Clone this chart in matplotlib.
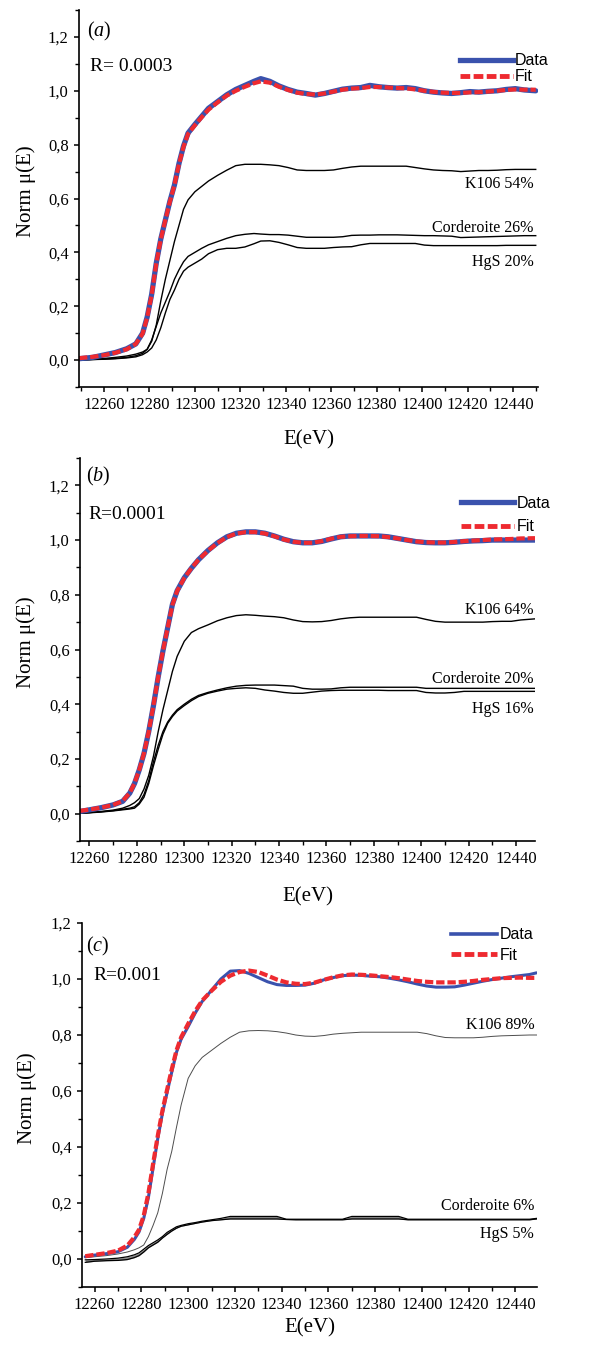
import matplotlib
matplotlib.use("Agg")
import matplotlib.pyplot as plt
from matplotlib.ticker import MultipleLocator, FuncFormatter
from matplotlib.lines import Line2D

plt.rcParams['font.family'] = ['Liberation Serif', 'DejaVu Serif']
plt.rcParams['mathtext.fontset'] = 'custom'
plt.rcParams['mathtext.rm'] = 'Liberation Serif'
plt.rcParams['mathtext.it'] = 'Liberation Serif:italic'

# ---------------- Panel (a) ----------------
E_a = [12249, 12255, 12260, 12265, 12270, 12274, 12277, 12279, 12281, 12283, 12285, 12287,
       12289, 12291, 12293, 12295, 12297, 12300, 12303, 12306, 12310, 12314, 12318, 12322,
       12326, 12329, 12333, 12337, 12341, 12345, 12349, 12353, 12357, 12361, 12365, 12369,
       12373, 12377, 12381, 12385, 12389, 12393, 12397, 12401, 12405, 12409, 12413, 12417,
       12421, 12425, 12429, 12433, 12437, 12441, 12445, 12450]
data_a = [0.005, 0.010, 0.019, 0.028, 0.042, 0.060, 0.100, 0.160, 0.245, 0.360, 0.450, 0.520,
          0.590, 0.650, 0.730, 0.795, 0.843, 0.875, 0.905, 0.935, 0.960, 0.985, 1.005, 1.020,
          1.035, 1.045, 1.035, 1.018, 1.005, 0.995, 0.990, 0.984, 0.990, 0.998, 1.006, 1.010,
          1.012, 1.020, 1.015, 1.012, 1.010, 1.012, 1.008, 1.000, 0.995, 0.992, 0.990, 0.993,
          0.997, 0.995, 0.998, 1.000, 1.005, 1.008, 1.003, 1.000]
fit_a = [0.007, 0.012, 0.018, 0.027, 0.040, 0.060, 0.098, 0.158, 0.243, 0.358, 0.448, 0.520,
         0.588, 0.650, 0.728, 0.792, 0.840, 0.872, 0.902, 0.930, 0.957, 0.982, 1.000, 1.015,
         1.028, 1.035, 1.030, 1.015, 1.003, 0.993, 0.988, 0.986, 0.990, 0.997, 1.004, 1.008,
         1.010, 1.014, 1.014, 1.012, 1.010, 1.009, 1.005, 1.000, 0.996, 0.993, 0.992, 0.992,
         0.994, 0.995, 0.997, 1.000, 1.003, 1.005, 1.004, 1.004]
k106_a = [0.000, 0.003, 0.006, 0.010, 0.015, 0.022, 0.030, 0.040, 0.070, 0.130, 0.220, 0.300,
          0.370, 0.440, 0.500, 0.560, 0.595, 0.625, 0.645, 0.665, 0.686, 0.705, 0.722, 0.727,
          0.727, 0.727, 0.725, 0.722, 0.715, 0.706, 0.704, 0.704, 0.704, 0.706, 0.712, 0.717,
          0.720, 0.720, 0.720, 0.720, 0.720, 0.720, 0.715, 0.710, 0.706, 0.704, 0.703, 0.700,
          0.702, 0.704, 0.704, 0.705, 0.707, 0.708, 0.708, 0.708]
cord_a = [0.000, 0.002, 0.004, 0.006, 0.010, 0.016, 0.025, 0.040, 0.075, 0.125, 0.175, 0.215,
          0.255, 0.300, 0.335, 0.365, 0.385, 0.400, 0.415, 0.428, 0.440, 0.452, 0.462, 0.467,
          0.470, 0.468, 0.466, 0.466, 0.464, 0.460, 0.456, 0.456, 0.456, 0.456, 0.458, 0.463,
          0.464, 0.464, 0.465, 0.465, 0.465, 0.464, 0.463, 0.462, 0.462, 0.461, 0.460, 0.455,
          0.456, 0.457, 0.458, 0.459, 0.460, 0.461, 0.462, 0.462]
hgs_a = [0.000, 0.002, 0.003, 0.005, 0.008, 0.012, 0.020, 0.030, 0.045, 0.075, 0.120, 0.175,
         0.225, 0.260, 0.300, 0.330, 0.345, 0.360, 0.375, 0.395, 0.410, 0.415, 0.415, 0.420,
         0.432, 0.442, 0.443, 0.437, 0.428, 0.418, 0.415, 0.415, 0.415, 0.418, 0.420, 0.421,
         0.428, 0.433, 0.433, 0.433, 0.433, 0.433, 0.433, 0.427, 0.425, 0.425, 0.425, 0.425,
         0.425, 0.425, 0.425, 0.425, 0.426, 0.426, 0.426, 0.426]

# ---------------- Panel (b) ----------------
E_b = [12256, 12260, 12265, 12270, 12274, 12277, 12279, 12281, 12283, 12285, 12287, 12289,
       12291, 12293, 12295, 12297, 12300, 12303, 12306, 12310, 12314, 12318, 12322, 12326,
       12330, 12334, 12338, 12342, 12346, 12350, 12354, 12358, 12362, 12366, 12370, 12374,
       12378, 12382, 12386, 12390, 12394, 12398, 12402, 12406, 12410, 12414, 12418, 12422,
       12426, 12430, 12434, 12438, 12442, 12448]
data_b = [0.008, 0.014, 0.022, 0.032, 0.045, 0.075, 0.110, 0.160, 0.220, 0.300, 0.395, 0.500,
          0.595, 0.680, 0.765, 0.815, 0.862, 0.897, 0.928, 0.962, 0.990, 1.012, 1.025, 1.030,
          1.030, 1.025, 1.015, 1.003, 0.994, 0.990, 0.990, 0.995, 1.004, 1.012, 1.015, 1.015,
          1.015, 1.015, 1.012, 1.006, 1.000, 0.994, 0.991, 0.990, 0.990, 0.992, 0.995, 0.997,
          0.998, 1.000, 1.000, 1.000, 1.000, 1.000]
fit_b = [0.010, 0.015, 0.022, 0.032, 0.046, 0.076, 0.111, 0.160, 0.221, 0.300, 0.396, 0.500,
         0.595, 0.680, 0.763, 0.814, 0.861, 0.897, 0.928, 0.961, 0.989, 1.011, 1.024, 1.029,
         1.029, 1.024, 1.014, 1.002, 0.994, 0.990, 0.990, 0.996, 1.005, 1.012, 1.014, 1.015,
         1.015, 1.014, 1.011, 1.006, 1.000, 0.995, 0.992, 0.991, 0.991, 0.993, 0.996, 0.998,
         1.000, 1.002, 1.003, 1.004, 1.006, 1.007]
k106_b = [0.002, 0.004, 0.008, 0.013, 0.020, 0.030, 0.040, 0.055, 0.090, 0.140, 0.210, 0.300,
          0.380, 0.450, 0.520, 0.575, 0.630, 0.662, 0.676, 0.690, 0.705, 0.716, 0.724, 0.727,
          0.725, 0.722, 0.720, 0.716, 0.708, 0.702, 0.701, 0.702, 0.706, 0.712, 0.716, 0.718,
          0.718, 0.718, 0.718, 0.718, 0.718, 0.718, 0.710, 0.703, 0.700, 0.700, 0.700, 0.700,
          0.700, 0.702, 0.703, 0.703, 0.708, 0.712]
cord_b = [0.002, 0.004, 0.007, 0.011, 0.016, 0.020, 0.025, 0.040, 0.070, 0.120, 0.190, 0.250,
          0.300, 0.335, 0.360, 0.380, 0.400, 0.418, 0.432, 0.443, 0.452, 0.460, 0.466, 0.469,
          0.470, 0.470, 0.470, 0.468, 0.466, 0.458, 0.455, 0.455, 0.456, 0.460, 0.462, 0.462,
          0.462, 0.462, 0.462, 0.462, 0.462, 0.462, 0.458, 0.458, 0.458, 0.458, 0.458, 0.458,
          0.458, 0.458, 0.458, 0.458, 0.458, 0.458]
hgs_b = [0.001, 0.003, 0.006, 0.010, 0.014, 0.017, 0.020, 0.035, 0.060, 0.110, 0.175, 0.235,
         0.290, 0.330, 0.355, 0.375, 0.395, 0.413, 0.428, 0.440, 0.448, 0.455, 0.458, 0.460,
         0.458, 0.452, 0.448, 0.443, 0.440, 0.440, 0.444, 0.448, 0.450, 0.451, 0.451, 0.451,
         0.451, 0.451, 0.450, 0.450, 0.450, 0.450, 0.443, 0.441, 0.441, 0.443, 0.447, 0.447,
         0.447, 0.447, 0.447, 0.447, 0.447, 0.447]

# ---------------- Panel (c) ----------------
E_c = [12256, 12260, 12265, 12270, 12274, 12277, 12279, 12281, 12283, 12285, 12287, 12289,
       12291, 12293, 12295, 12297, 12300, 12303, 12306, 12310, 12314, 12318, 12322, 12326,
       12330, 12334, 12338, 12342, 12346, 12350, 12354, 12358, 12362, 12366, 12370, 12374,
       12378, 12382, 12386, 12390, 12394, 12398, 12402, 12406, 12410, 12414, 12418, 12422,
       12426, 12430, 12434, 12438, 12442, 12446, 12449]
data_c = [0.008, 0.014, 0.019, 0.026, 0.042, 0.070, 0.097, 0.145, 0.220, 0.325, 0.430, 0.520,
          0.595, 0.668, 0.738, 0.785, 0.830, 0.878, 0.920, 0.960, 1.000, 1.028, 1.030, 1.020,
          1.005, 0.990, 0.980, 0.977, 0.977, 0.978, 0.985, 0.997, 1.005, 1.012, 1.014, 1.013,
          1.010, 1.008, 1.003, 0.997, 0.990, 0.982, 0.975, 0.971, 0.971, 0.972, 0.978, 0.985,
          0.992, 0.998, 1.003, 1.008, 1.012, 1.016, 1.022]
fit_c = [0.010, 0.015, 0.021, 0.030, 0.048, 0.078, 0.105, 0.155, 0.235, 0.340, 0.440, 0.530,
         0.605, 0.678, 0.745, 0.792, 0.840, 0.885, 0.923, 0.958, 0.990, 1.012, 1.025, 1.030,
         1.025, 1.012, 0.998, 0.988, 0.983, 0.982, 0.987, 0.997, 1.006, 1.013, 1.016, 1.015,
         1.013, 1.010, 1.007, 1.003, 0.998, 0.993, 0.990, 0.988, 0.988, 0.988, 0.990, 0.993,
         0.997, 1.000, 1.003, 1.004, 1.005, 1.004, 1.004]
k106_c = [0.005, 0.008, 0.012, 0.018, 0.025, 0.033, 0.040, 0.050, 0.080, 0.120, 0.165, 0.235,
          0.320, 0.385, 0.470, 0.550, 0.645, 0.690, 0.720, 0.745, 0.770, 0.792, 0.810, 0.815,
          0.816, 0.815, 0.812, 0.807, 0.800, 0.796, 0.795, 0.798, 0.803, 0.806, 0.808, 0.810,
          0.810, 0.810, 0.810, 0.810, 0.810, 0.810, 0.805, 0.797, 0.791, 0.790, 0.790, 0.790,
          0.792, 0.795, 0.797, 0.798, 0.799, 0.800, 0.800]
cord_c = [-0.003, -0.002, 0.000, 0.003, 0.008, 0.015, 0.022, 0.035, 0.048, 0.058, 0.068, 0.080,
          0.095, 0.105, 0.115, 0.120, 0.126, 0.130, 0.135, 0.140, 0.145, 0.152, 0.152, 0.152,
          0.152, 0.152, 0.152, 0.142, 0.142, 0.142, 0.142, 0.142, 0.142, 0.142, 0.152, 0.152,
          0.152, 0.152, 0.152, 0.152, 0.142, 0.142, 0.142, 0.142, 0.142, 0.142, 0.142, 0.142,
          0.142, 0.142, 0.142, 0.142, 0.142, 0.142, 0.145]
hgs_c = [-0.012, -0.008, -0.006, -0.005, -0.002, 0.005, 0.012, 0.025, 0.040, 0.050, 0.060, 0.075,
         0.088, 0.100, 0.110, 0.117, 0.122, 0.127, 0.132, 0.137, 0.140, 0.143, 0.143, 0.143,
         0.143, 0.143, 0.143, 0.141, 0.140, 0.140, 0.140, 0.140, 0.140, 0.140, 0.143, 0.143,
         0.143, 0.143, 0.143, 0.143, 0.140, 0.140, 0.140, 0.140, 0.140, 0.140, 0.140, 0.140,
         0.140, 0.140, 0.140, 0.140, 0.140, 0.140, 0.143]

x_ticks = [12260, 12280, 12300, 12320, 12340, 12360, 12380, 12400, 12420, 12440]
y_ticks = [0.0, 0.2, 0.4, 0.6, 0.8, 1.0, 1.2]

panel_letters = ['a', 'b', 'c']
r_labels = ['R= 0.0003', 'R=0.0001', 'R=0.001']
k106_labels = ['K106 54%', 'K106 64%', 'K106 89%']
cord_labels = ['Corderoite 26%', 'Corderoite 20%', 'Corderoite 6%']
hgs_labels = ['HgS 20%', 'HgS 16%', 'HgS 5%']

BLUE = '#3a52ad'
RED = '#ee2a30'

fig = plt.figure(figsize=(6.02, 13.47), dpi=100)

W, H = 602.0, 1347.0
boxes = [(79, 538, 10, 387), (80, 535, 458, 841), (82, 537, 923, 1287)]
xlims = [(12249, 12451), (12256, 12448), (12254.6, 12449.2)]
ylims = [(-0.1, 1.3), (-0.1, 1.3), (-0.1, 1.2)]
letter_pos = [(12252.5, 1.222), (12258.5, 1.234), (12256.2, 1.115)]
r_pos = [(12253.8, 1.092), (12259.5, 1.095), (12259.6, 1.014)]
k_y = [0.655, 0.745, 0.835]
c_y = [0.49, 0.493, 0.19]
h_y = [0.366, 0.383, 0.09]
lab_x = [12449, 12447.5, 12448]
leg_anchor = [(0.83, 0.885), (0.838, 0.902), (0.81, 0.988)]
leg_spacing = [0.05, 0.55, 0.35]
xlab_y = [-0.114, -0.12, -0.085]
ylab_x = [-0.094, -0.096, -0.098]

series = [
    (E_a, data_a, fit_a, k106_a, cord_a, hgs_a),
    (E_b, data_b, fit_b, k106_b, cord_b, hgs_b),
    (E_c, data_c, fit_c, k106_c, cord_c, hgs_c),
]

fmt = FuncFormatter(lambda v, p: ('%.1f' % v).replace('.', ','))

for i, (E, dat, fit, k106, cord, hgs) in enumerate(series):
    l, r, t, b = boxes[i]
    ax = fig.add_axes([l / W, 1 - b / H, (r - l) / W, (b - t) / H])
    if i == 2:
        ax.fill_between(E, hgs, cord, color='0.55', lw=0)
        ax.plot(E, cord, color='black', lw=0.9)
        ax.plot(E, hgs, color='black', lw=0.9)
        ax.plot(E, k106, color='0.3', lw=0.7)
        dlw = 2.2
    else:
        ax.plot(E, cord, color='black', lw=1.0)
        ax.plot(E, hgs, color='black', lw=1.0)
        ax.plot(E, k106, color='black', lw=1.0)
        dlw = 3.8
    ax.plot(E, dat, color=BLUE, lw=dlw, solid_capstyle='round')
    ax.plot(E, fit, color=RED, lw=3.0, dashes=(2.0, 0.7), dash_capstyle='butt')

    ax.set_xlim(*xlims[i])
    ax.set_ylim(*ylims[i])
    ax.set_xticks(x_ticks)
    ax.set_yticks(y_ticks)
    ax.xaxis.set_minor_locator(MultipleLocator(10))
    ax.yaxis.set_minor_locator(MultipleLocator(0.1))
    ax.yaxis.set_major_formatter(fmt)
    for s in ['top', 'right']:
        ax.spines[s].set_visible(False)
    for s in ['left', 'bottom']:
        ax.spines[s].set_linewidth(1.2)
    ax.tick_params(which='major', direction='out', length=3.4, width=1.1, labelsize=12, pad=4)
    ax.tick_params(which='minor', direction='out', length=2.8, width=1.0)

    ax.set_xlabel('E(eV)', fontsize=15)
    ax.set_ylabel('Norm \u03bc(E)', fontsize=15)
    ax.xaxis.set_label_coords(0.5, xlab_y[i])
    ax.yaxis.set_label_coords(ylab_x[i], 0.52)

    ax.text(letter_pos[i][0], letter_pos[i][1], r'$(\mathit{%s})$' % panel_letters[i],
            fontsize=14.5, ha='left', va='center')
    ax.text(r_pos[i][0], r_pos[i][1], r_labels[i], fontsize=14, ha='left', va='center')
    ax.text(lab_x[i], k_y[i], k106_labels[i], fontsize=11.5, ha='right', va='center')
    ax.text(lab_x[i], c_y[i], cord_labels[i], fontsize=11.5, ha='right', va='center')
    ax.text(lab_x[i], h_y[i], hgs_labels[i], fontsize=11.5, ha='right', va='center')

    handles = [Line2D([], [], color=BLUE, lw=dlw if i < 2 else 2.6),
               Line2D([], [], color=RED, lw=3.5, dashes=(2.0, 0.7))]
    leg = ax.legend(handles, ['Data', 'Fit'], loc='upper left', bbox_to_anchor=leg_anchor[i],
                    frameon=False, borderpad=0, borderaxespad=0, handlelength=3.3 if i < 2 else 2.9,
                    handletextpad=0.15, labelspacing=leg_spacing[i],
                    prop={'family': 'Liberation Sans', 'size': 11.5})

fig.savefig('out.png', dpi=100)
